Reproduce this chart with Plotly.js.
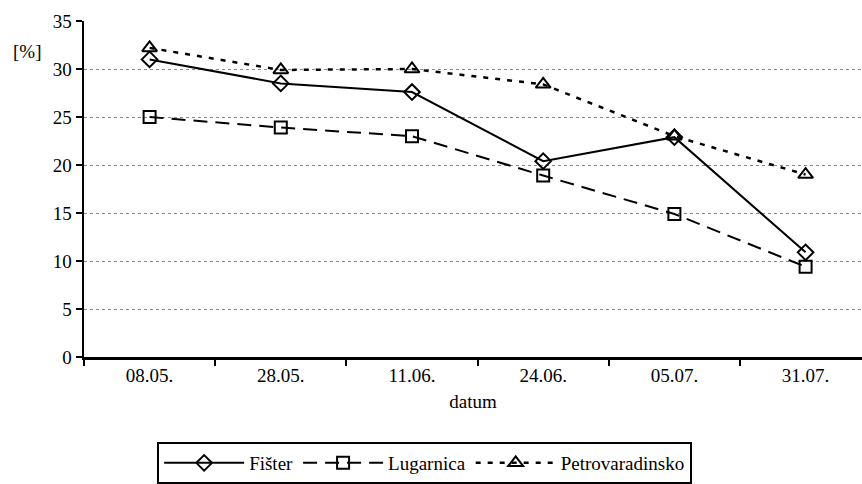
<!DOCTYPE html>
<html>
<head>
<meta charset="utf-8">
<script src="https://cdn.plot.ly/plotly-3.0.1.min.js"></script>
<style>
html,body{margin:0;padding:0;background:#fff;}
#chart{width:862px;height:484px;}
svg text{font-family:"Liberation Serif",serif !important;}
</style>
</head>
<body>
<div id="chart"></div>
<script>
const dates = ["08.05.", "28.05.", "11.06.", "24.06.", "05.07.", "31.07."];
const fister = [31.0, 28.5, 27.6, 20.4, 22.9, 10.9];
const lugarnica = [25.0, 23.9, 23.0, 18.9, 14.9, 9.4];
const petrovaradinsko = [32.2, 29.9, 30.0, 28.4, 23.0, 19.0];

function mkFont() { return {family: "Liberation Serif", size: 19, color: "#000"}; }

const traces = [
  {x: dates, y: fister, name: "Fišter", type: "scatter", mode: "lines+markers",
   line: {color: "#000", width: 2, dash: "solid"},
   marker: {symbol: "diamond-open", size: 12, color: "#000", line: {width: 2}}},
  {x: dates, y: lugarnica, name: "Lugarnica", type: "scatter", mode: "lines+markers",
   line: {color: "#000", width: 2, dash: "14px,8px"},
   marker: {symbol: "square-open", size: 12, color: "#000", line: {width: 2}}},
  {x: dates, y: petrovaradinsko, name: "Petrovaradinsko", type: "scatter", mode: "lines+markers",
   line: {color: "#000", width: 2.5, dash: "5px,7px"},
   marker: {symbol: "triangle-up-open", size: 13, color: "#000", line: {width: 2}}}
];

const layout = {
  width: 862, height: 484,
  margin: {l: 84, r: 0, t: 21, b: 124},
  paper_bgcolor: "#fff", plot_bgcolor: "#fff",
  font: mkFont(),
  showlegend: true,
  legend: {orientation: "h", x: 0.094, xanchor: "left", y: -0.254, yanchor: "top",
           bordercolor: "#000", borderwidth: 2, font: mkFont(), itemwidth: 80,
           traceorder: "normal"},
  xaxis: {type: "category", range: [-0.5, 5.43], tickson: "boundaries",
          ticks: "outside", ticklen: 6, tickwidth: 2, tickcolor: "#000",
          showline: true, linecolor: "#000", linewidth: 2.5, showgrid: false, zeroline: false,
          tickfont: mkFont(), title: {text: "datum", font: mkFont(), standoff: 10}},
  yaxis: {range: [0, 35], dtick: 5, tick0: 0, ticks: "outside", ticklen: 6, tickwidth: 2, tickcolor: "#000",
          showline: true, linecolor: "#000", linewidth: 2.5, zeroline: false,
          showgrid: true, gridcolor: "#8a8a8a", gridwidth: 1, griddash: "dot",
          tickfont: mkFont(), title: {text: ""}},
  annotations: [{text: "[%]", xref: "paper", yref: "paper", x: 0, xshift: -57, y: 0.909,
                 xanchor: "center", yanchor: "middle", showarrow: false, font: mkFont()}]
};

Plotly.newPlot("chart", traces, layout, {displayModeBar: false, staticPlot: true});
</script>
</body>
</html>
